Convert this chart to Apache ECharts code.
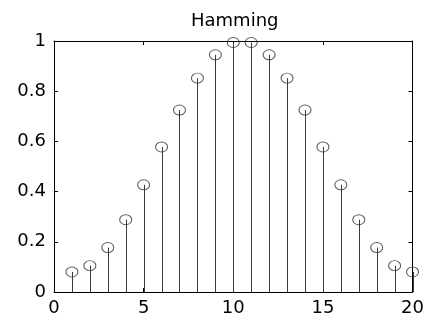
<!DOCTYPE html>
<html>
<head>
<meta charset="utf-8">
<script src="https://cdn.jsdelivr.net/npm/echarts@6/dist/echarts.min.js"></script>
<style>html,body{margin:0;padding:0;background:#fff}#c{width:427px;height:320px}</style>
</head>
<body>
<div id="c"></div>
<script>
var title = 'Hamming';
var xs = [1,2,3,4,5,6,7,8,9,10,11,12,13,14,15,16,17,18,19,20];
var ys = [0.080,0.105,0.177,0.288,0.427,0.578,0.725,0.852,0.945,0.994,0.994,0.945,0.852,0.725,0.578,0.427,0.288,0.177,0.105,0.080];
var xTicks = [0,5,10,15,20];
var yTicks = [0,0.2,0.4,0.6,0.8,1];

var pts = xs.map(function(x,i){return [x, ys[i]];});
var font = 'DejaVu Sans';
var chart = echarts.init(document.getElementById('c'), null, {renderer:'canvas'});
chart.setOption({
  animation:false,
  backgroundColor:'#fff',
  title:{text:title, left:186, top:7, textStyle:{fontFamily:font, fontSize:18, fontWeight:'normal', color:'#000'}},
  grid:{left:54, right:14, top:41, bottom:28, containLabel:false},
  xAxis:[{type:'value', min:0, max:20, interval:5, position:'bottom',
    axisLine:{onZero:false, lineStyle:{color:'#000', width:1}},
    axisTick:{inside:true, length:4, lineStyle:{color:'#000'}},
    axisLabel:{fontFamily:font, fontSize:18, color:'#000', margin:7,
      formatter:function(v){return xTicks.indexOf(v)>=0 ? String(v) : '';}},
    splitLine:{show:false}},
   {type:'value', min:0, max:20, interval:5, position:'top',
    axisLine:{onZero:false, lineStyle:{color:'#000', width:1}},
    axisTick:{inside:true, length:4, lineStyle:{color:'#000'}},
    axisLabel:{show:false}, splitLine:{show:false}}],
  yAxis:[{type:'value', min:0, max:1, interval:0.2, position:'left',
    axisLine:{show:true, onZero:false, lineStyle:{color:'#000', width:1}},
    axisTick:{show:true, inside:true, length:4, lineStyle:{color:'#000'}},
    axisLabel:{fontFamily:font, fontSize:18, color:'#000', margin:8,
      formatter:function(v){var r=Math.round(v*10)/10; return String(r);}},
    splitLine:{show:false}},
   {type:'value', min:0, max:1, interval:0.2, position:'right',
    axisLine:{show:true, onZero:false, lineStyle:{color:'#000', width:1}},
    axisTick:{show:true, inside:true, length:4, lineStyle:{color:'#000'}},
    axisLabel:{show:false}, splitLine:{show:false}}],
  series:[
    {type:'custom', xAxisIndex:0, yAxisIndex:0, data:pts, silent:true,
     renderItem:function(params, api){
       var top = api.coord([api.value(0), api.value(1)]);
       var bot = api.coord([api.value(0), 0]);
       var x = Math.round(top[0]) + 0.5;
       return {type:'line', shape:{x1:x, y1:bot[1], x2:x, y2:top[1]},
         style:{stroke:'#3a3a3a', lineWidth:1}};
     }},
    {type:'scatter', xAxisIndex:0, yAxisIndex:0, data:pts, symbol:'circle', symbolSize:[12,10],
     itemStyle:{color:'rgba(0,0,0,0)', borderColor:'#333', borderWidth:1}, silent:true, z:3}
  ]
});
</script>
</body>
</html>
